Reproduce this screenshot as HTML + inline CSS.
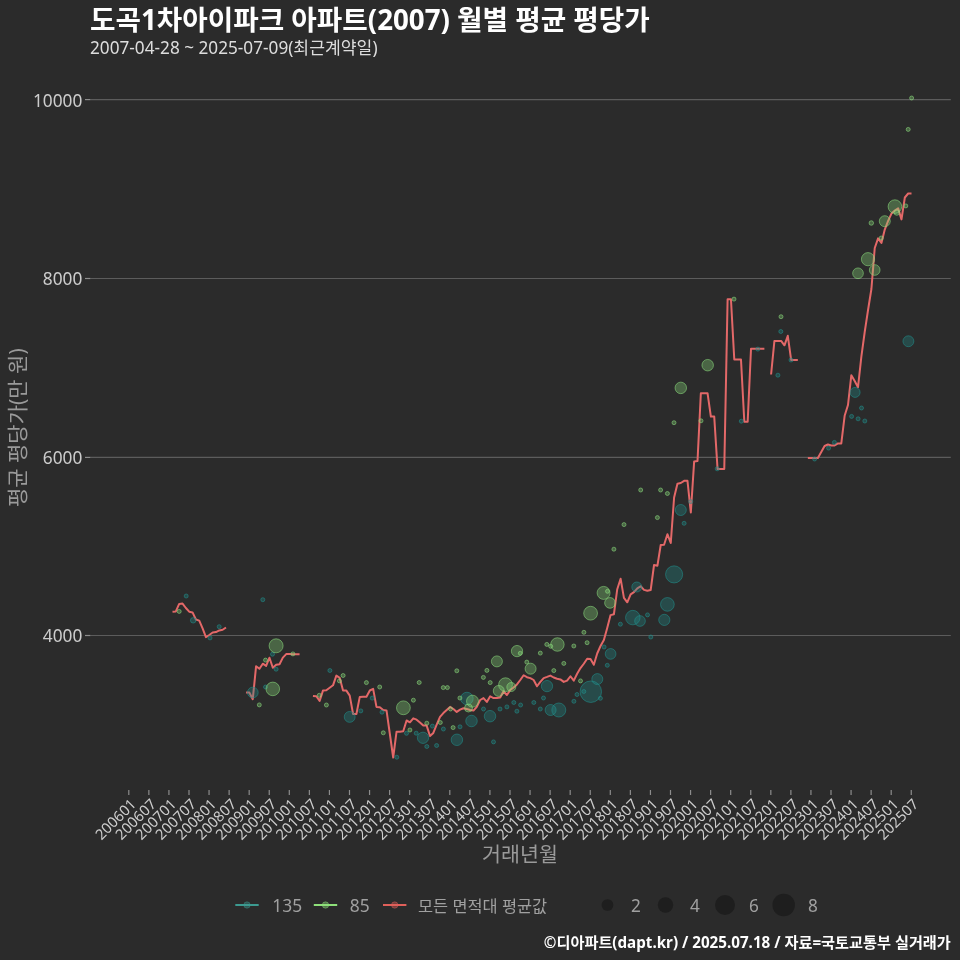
<!DOCTYPE html><html><head><meta charset="utf-8"><style>html,body{margin:0;padding:0;background:#2b2b2b;}svg{display:block;will-change:transform}text{font-family:"Noto Sans", "Liberation Sans", "Noto Sans CJK KR", sans-serif;}</style></head><body>
<svg width="960" height="960" viewBox="0 0 960 960">
<rect width="960" height="960" fill="#2b2b2b"/>
<text x="90" y="30" font-size="27.7" font-weight="700" fill="#ffffff">도곡1차아이파크 아파트(2007) 월별 평균 평당가</text>
<text x="90" y="54.2" font-size="17.2" fill="#dddddd">2007-04-28 ~ 2025-07-09(최근계약일)</text>
<line x1="90.4" x2="950.8" y1="635.5" y2="635.5" stroke="#5c5c5c" stroke-width="1.2"/>
<line x1="85" x2="90.4" y1="635.5" y2="635.5" stroke="#8c8c8c" stroke-width="1.2"/>
<text x="82.4" y="642.40" font-size="17.3" fill="#cccccc" text-anchor="end">4000</text>
<line x1="90.4" x2="950.8" y1="457.4" y2="457.4" stroke="#5c5c5c" stroke-width="1.2"/>
<line x1="85" x2="90.4" y1="457.4" y2="457.4" stroke="#8c8c8c" stroke-width="1.2"/>
<text x="82.4" y="464.30" font-size="17.3" fill="#cccccc" text-anchor="end">6000</text>
<line x1="90.4" x2="950.8" y1="278.5" y2="278.5" stroke="#5c5c5c" stroke-width="1.2"/>
<line x1="85" x2="90.4" y1="278.5" y2="278.5" stroke="#8c8c8c" stroke-width="1.2"/>
<text x="82.4" y="285.40" font-size="17.3" fill="#cccccc" text-anchor="end">8000</text>
<line x1="90.4" x2="950.8" y1="99.6" y2="99.6" stroke="#5c5c5c" stroke-width="1.2"/>
<line x1="85" x2="90.4" y1="99.6" y2="99.6" stroke="#8c8c8c" stroke-width="1.2"/>
<text x="82.4" y="106.50" font-size="17.3" fill="#cccccc" text-anchor="end">10000</text>
<line x1="128.80" x2="128.80" y1="790" y2="795" stroke="#8c8c8c" stroke-width="1.2"/>
<text transform="translate(128.00,796) rotate(-45)" font-size="14.7" fill="#cccccc" text-anchor="end" dominant-baseline="hanging">200601</text>
<line x1="148.86" x2="148.86" y1="790" y2="795" stroke="#8c8c8c" stroke-width="1.2"/>
<text transform="translate(148.06,796) rotate(-45)" font-size="14.7" fill="#cccccc" text-anchor="end" dominant-baseline="hanging">200607</text>
<line x1="168.93" x2="168.93" y1="790" y2="795" stroke="#8c8c8c" stroke-width="1.2"/>
<text transform="translate(168.13,796) rotate(-45)" font-size="14.7" fill="#cccccc" text-anchor="end" dominant-baseline="hanging">200701</text>
<line x1="188.99" x2="188.99" y1="790" y2="795" stroke="#8c8c8c" stroke-width="1.2"/>
<text transform="translate(188.19,796) rotate(-45)" font-size="14.7" fill="#cccccc" text-anchor="end" dominant-baseline="hanging">200707</text>
<line x1="209.05" x2="209.05" y1="790" y2="795" stroke="#8c8c8c" stroke-width="1.2"/>
<text transform="translate(208.25,796) rotate(-45)" font-size="14.7" fill="#cccccc" text-anchor="end" dominant-baseline="hanging">200801</text>
<line x1="229.12" x2="229.12" y1="790" y2="795" stroke="#8c8c8c" stroke-width="1.2"/>
<text transform="translate(228.31,796) rotate(-45)" font-size="14.7" fill="#cccccc" text-anchor="end" dominant-baseline="hanging">200807</text>
<line x1="249.18" x2="249.18" y1="790" y2="795" stroke="#8c8c8c" stroke-width="1.2"/>
<text transform="translate(248.38,796) rotate(-45)" font-size="14.7" fill="#cccccc" text-anchor="end" dominant-baseline="hanging">200901</text>
<line x1="269.24" x2="269.24" y1="790" y2="795" stroke="#8c8c8c" stroke-width="1.2"/>
<text transform="translate(268.44,796) rotate(-45)" font-size="14.7" fill="#cccccc" text-anchor="end" dominant-baseline="hanging">200907</text>
<line x1="289.30" x2="289.30" y1="790" y2="795" stroke="#8c8c8c" stroke-width="1.2"/>
<text transform="translate(288.50,796) rotate(-45)" font-size="14.7" fill="#cccccc" text-anchor="end" dominant-baseline="hanging">201001</text>
<line x1="309.37" x2="309.37" y1="790" y2="795" stroke="#8c8c8c" stroke-width="1.2"/>
<text transform="translate(308.57,796) rotate(-45)" font-size="14.7" fill="#cccccc" text-anchor="end" dominant-baseline="hanging">201007</text>
<line x1="329.43" x2="329.43" y1="790" y2="795" stroke="#8c8c8c" stroke-width="1.2"/>
<text transform="translate(328.63,796) rotate(-45)" font-size="14.7" fill="#cccccc" text-anchor="end" dominant-baseline="hanging">201101</text>
<line x1="349.49" x2="349.49" y1="790" y2="795" stroke="#8c8c8c" stroke-width="1.2"/>
<text transform="translate(348.69,796) rotate(-45)" font-size="14.7" fill="#cccccc" text-anchor="end" dominant-baseline="hanging">201107</text>
<line x1="369.56" x2="369.56" y1="790" y2="795" stroke="#8c8c8c" stroke-width="1.2"/>
<text transform="translate(368.76,796) rotate(-45)" font-size="14.7" fill="#cccccc" text-anchor="end" dominant-baseline="hanging">201201</text>
<line x1="389.62" x2="389.62" y1="790" y2="795" stroke="#8c8c8c" stroke-width="1.2"/>
<text transform="translate(388.82,796) rotate(-45)" font-size="14.7" fill="#cccccc" text-anchor="end" dominant-baseline="hanging">201207</text>
<line x1="409.68" x2="409.68" y1="790" y2="795" stroke="#8c8c8c" stroke-width="1.2"/>
<text transform="translate(408.88,796) rotate(-45)" font-size="14.7" fill="#cccccc" text-anchor="end" dominant-baseline="hanging">201301</text>
<line x1="429.75" x2="429.75" y1="790" y2="795" stroke="#8c8c8c" stroke-width="1.2"/>
<text transform="translate(428.94,796) rotate(-45)" font-size="14.7" fill="#cccccc" text-anchor="end" dominant-baseline="hanging">201307</text>
<line x1="449.81" x2="449.81" y1="790" y2="795" stroke="#8c8c8c" stroke-width="1.2"/>
<text transform="translate(449.01,796) rotate(-45)" font-size="14.7" fill="#cccccc" text-anchor="end" dominant-baseline="hanging">201401</text>
<line x1="469.87" x2="469.87" y1="790" y2="795" stroke="#8c8c8c" stroke-width="1.2"/>
<text transform="translate(469.07,796) rotate(-45)" font-size="14.7" fill="#cccccc" text-anchor="end" dominant-baseline="hanging">201407</text>
<line x1="489.93" x2="489.93" y1="790" y2="795" stroke="#8c8c8c" stroke-width="1.2"/>
<text transform="translate(489.13,796) rotate(-45)" font-size="14.7" fill="#cccccc" text-anchor="end" dominant-baseline="hanging">201501</text>
<line x1="510.00" x2="510.00" y1="790" y2="795" stroke="#8c8c8c" stroke-width="1.2"/>
<text transform="translate(509.20,796) rotate(-45)" font-size="14.7" fill="#cccccc" text-anchor="end" dominant-baseline="hanging">201507</text>
<line x1="530.06" x2="530.06" y1="790" y2="795" stroke="#8c8c8c" stroke-width="1.2"/>
<text transform="translate(529.26,796) rotate(-45)" font-size="14.7" fill="#cccccc" text-anchor="end" dominant-baseline="hanging">201601</text>
<line x1="550.12" x2="550.12" y1="790" y2="795" stroke="#8c8c8c" stroke-width="1.2"/>
<text transform="translate(549.32,796) rotate(-45)" font-size="14.7" fill="#cccccc" text-anchor="end" dominant-baseline="hanging">201607</text>
<line x1="570.19" x2="570.19" y1="790" y2="795" stroke="#8c8c8c" stroke-width="1.2"/>
<text transform="translate(569.39,796) rotate(-45)" font-size="14.7" fill="#cccccc" text-anchor="end" dominant-baseline="hanging">201701</text>
<line x1="590.25" x2="590.25" y1="790" y2="795" stroke="#8c8c8c" stroke-width="1.2"/>
<text transform="translate(589.45,796) rotate(-45)" font-size="14.7" fill="#cccccc" text-anchor="end" dominant-baseline="hanging">201707</text>
<line x1="610.31" x2="610.31" y1="790" y2="795" stroke="#8c8c8c" stroke-width="1.2"/>
<text transform="translate(609.51,796) rotate(-45)" font-size="14.7" fill="#cccccc" text-anchor="end" dominant-baseline="hanging">201801</text>
<line x1="630.38" x2="630.38" y1="790" y2="795" stroke="#8c8c8c" stroke-width="1.2"/>
<text transform="translate(629.58,796) rotate(-45)" font-size="14.7" fill="#cccccc" text-anchor="end" dominant-baseline="hanging">201807</text>
<line x1="650.44" x2="650.44" y1="790" y2="795" stroke="#8c8c8c" stroke-width="1.2"/>
<text transform="translate(649.64,796) rotate(-45)" font-size="14.7" fill="#cccccc" text-anchor="end" dominant-baseline="hanging">201901</text>
<line x1="670.50" x2="670.50" y1="790" y2="795" stroke="#8c8c8c" stroke-width="1.2"/>
<text transform="translate(669.70,796) rotate(-45)" font-size="14.7" fill="#cccccc" text-anchor="end" dominant-baseline="hanging">201907</text>
<line x1="690.56" x2="690.56" y1="790" y2="795" stroke="#8c8c8c" stroke-width="1.2"/>
<text transform="translate(689.76,796) rotate(-45)" font-size="14.7" fill="#cccccc" text-anchor="end" dominant-baseline="hanging">202001</text>
<line x1="710.63" x2="710.63" y1="790" y2="795" stroke="#8c8c8c" stroke-width="1.2"/>
<text transform="translate(709.83,796) rotate(-45)" font-size="14.7" fill="#cccccc" text-anchor="end" dominant-baseline="hanging">202007</text>
<line x1="730.69" x2="730.69" y1="790" y2="795" stroke="#8c8c8c" stroke-width="1.2"/>
<text transform="translate(729.89,796) rotate(-45)" font-size="14.7" fill="#cccccc" text-anchor="end" dominant-baseline="hanging">202101</text>
<line x1="750.75" x2="750.75" y1="790" y2="795" stroke="#8c8c8c" stroke-width="1.2"/>
<text transform="translate(749.95,796) rotate(-45)" font-size="14.7" fill="#cccccc" text-anchor="end" dominant-baseline="hanging">202107</text>
<line x1="770.82" x2="770.82" y1="790" y2="795" stroke="#8c8c8c" stroke-width="1.2"/>
<text transform="translate(770.02,796) rotate(-45)" font-size="14.7" fill="#cccccc" text-anchor="end" dominant-baseline="hanging">202201</text>
<line x1="790.88" x2="790.88" y1="790" y2="795" stroke="#8c8c8c" stroke-width="1.2"/>
<text transform="translate(790.08,796) rotate(-45)" font-size="14.7" fill="#cccccc" text-anchor="end" dominant-baseline="hanging">202207</text>
<line x1="810.94" x2="810.94" y1="790" y2="795" stroke="#8c8c8c" stroke-width="1.2"/>
<text transform="translate(810.14,796) rotate(-45)" font-size="14.7" fill="#cccccc" text-anchor="end" dominant-baseline="hanging">202301</text>
<line x1="831.00" x2="831.00" y1="790" y2="795" stroke="#8c8c8c" stroke-width="1.2"/>
<text transform="translate(830.20,796) rotate(-45)" font-size="14.7" fill="#cccccc" text-anchor="end" dominant-baseline="hanging">202307</text>
<line x1="851.07" x2="851.07" y1="790" y2="795" stroke="#8c8c8c" stroke-width="1.2"/>
<text transform="translate(850.27,796) rotate(-45)" font-size="14.7" fill="#cccccc" text-anchor="end" dominant-baseline="hanging">202401</text>
<line x1="871.13" x2="871.13" y1="790" y2="795" stroke="#8c8c8c" stroke-width="1.2"/>
<text transform="translate(870.33,796) rotate(-45)" font-size="14.7" fill="#cccccc" text-anchor="end" dominant-baseline="hanging">202407</text>
<line x1="891.19" x2="891.19" y1="790" y2="795" stroke="#8c8c8c" stroke-width="1.2"/>
<text transform="translate(890.39,796) rotate(-45)" font-size="14.7" fill="#cccccc" text-anchor="end" dominant-baseline="hanging">202501</text>
<line x1="911.26" x2="911.26" y1="790" y2="795" stroke="#8c8c8c" stroke-width="1.2"/>
<text transform="translate(910.46,796) rotate(-45)" font-size="14.7" fill="#cccccc" text-anchor="end" dominant-baseline="hanging">202507</text>
<text x="520" y="861.5" font-size="20.6" fill="#9a9a9a" text-anchor="middle">거래년월</text>
<text transform="translate(24.5,427.7) rotate(-90)" font-size="21" fill="#9a9a9a" text-anchor="middle">평균 평당가(만 원)</text>
<g fill="none" stroke="#e36868" stroke-width="2" stroke-linejoin="round" stroke-linecap="butt">
<polyline points="172.50,611.70 175.84,611.40 179.19,603.90 182.53,603.60 185.88,608.00 189.22,611.70 192.56,612.40 195.91,619.50 199.25,620.60 202.60,628.30 205.94,637.10 209.28,635.00 212.63,632.50 215.97,632.10 219.32,630.40 222.66,629.80 226.00,627.50"/>
<polyline points="246.07,692.40 249.41,692.60 252.76,699.20 256.10,666.20 259.44,668.80 262.79,663.70 266.13,665.90 269.48,657.70 272.82,667.80 276.16,664.80 279.51,664.20 282.85,657.60 286.20,654.10 289.54,653.90 292.88,654.20 296.23,654.20 299.57,654.20"/>
<polyline points="312.95,695.90 316.29,696.25 319.64,700.90 322.98,690.60 326.32,690.30 329.67,687.80 333.01,685.30 336.36,675.60 339.70,677.80 343.04,690.60 346.39,690.60 349.73,695.60 353.08,714.00 356.42,714.00 359.76,696.90 363.11,696.70 366.45,696.70 369.80,690.50 373.14,688.90 376.48,706.90 379.83,707.30 383.17,710.10 386.52,710.40 389.86,734.00 393.20,757.50 396.55,731.70 399.89,731.70 403.24,731.20 406.58,720.50 409.92,722.30 413.27,718.30 416.61,719.70 419.96,722.50 423.30,725.60 426.64,725.60 429.99,736.00 433.33,732.90 436.68,724.60 440.02,716.80 443.36,713.10 446.71,710.00 450.05,706.90 453.40,709.00 456.74,711.90 460.08,709.60 463.43,708.30 466.77,709.00 470.12,710.00 473.46,710.60 476.80,706.90 480.15,700.00 483.49,698.10 486.84,701.90 490.18,696.25 493.52,698.10 496.87,698.10 500.21,697.50 503.56,691.25 506.90,695.00 510.24,690.00 513.59,687.50 516.93,684.40 520.28,680.00 523.62,675.25 526.96,677.20 530.31,678.10 533.65,680.00 537.00,686.25 540.34,681.90 543.68,678.10 547.03,676.90 550.37,675.60 553.72,677.50 557.06,678.75 560.40,679.40 563.75,681.90 567.09,680.60 570.44,676.25 573.78,680.60 577.12,673.75 580.47,668.10 583.81,663.75 587.16,658.80 590.50,659.00 593.84,664.80 597.19,653.50 600.53,646.00 603.88,640.00 607.22,628.00 610.56,615.10 613.91,614.25 617.25,589.20 620.60,578.70 623.94,597.90 627.28,602.30 630.63,594.30 633.97,592.10 637.32,588.40 640.66,586.25 644.00,589.90 647.35,590.80 650.69,590.00 654.04,565.00 657.38,565.80 660.72,545.00 664.07,544.70 667.41,534.20 670.76,543.00 674.10,497.50 677.44,483.70 680.79,483.00 684.13,480.80 687.48,480.80 690.82,512.50 694.16,461.40 697.51,461.00 700.85,393.20 704.20,393.20 707.54,393.20 710.88,416.60 714.23,416.60 717.57,469.10 720.92,469.10 724.26,469.10 727.60,299.30 730.95,299.30 734.29,359.50 737.64,359.50 740.98,359.50 744.32,421.70 747.67,421.70 751.01,348.70 754.36,348.70 757.70,348.70 761.04,348.70 764.39,348.70"/>
<polyline points="771.08,374.50 774.42,340.90 777.76,340.90 781.11,340.90 784.45,345.30 787.80,335.80 791.14,359.90 794.48,359.90 797.83,359.90"/>
<polyline points="807.86,458.00 811.20,458.00 814.55,458.00 817.89,458.00 821.24,452.00 824.58,446.00 827.92,444.50 831.27,445.50 834.61,445.50 837.96,443.40 841.30,443.40 844.64,415.80 847.99,405.00 851.33,375.20 854.68,381.00 858.02,387.20 861.36,356.70 864.71,332.00 868.05,310.00 871.40,289.00 874.74,248.00 878.08,238.40 881.43,242.90 884.77,229.60 888.12,220.80 891.46,213.60 894.80,210.60 898.15,208.40 901.49,219.40 904.84,197.50 908.18,193.50 911.52,193.50"/>
</g>
<g fill="#21908c" fill-opacity="0.33" stroke="#21908c" stroke-opacity="0.55" stroke-width="1">
<circle cx="186.2" cy="596.0" r="2.00"/>
<circle cx="193.2" cy="620.3" r="2.75"/>
<circle cx="210.0" cy="637.9" r="2.00"/>
<circle cx="219.2" cy="626.7" r="2.00"/>
<circle cx="252.8" cy="692.5" r="5.35"/>
<circle cx="262.8" cy="599.7" r="2.00"/>
<circle cx="265.5" cy="687.0" r="2.00"/>
<circle cx="272.5" cy="654.2" r="2.00"/>
<circle cx="276.1" cy="669.2" r="2.00"/>
<circle cx="329.9" cy="670.5" r="2.00"/>
<circle cx="349.7" cy="716.9" r="5.45"/>
<circle cx="360.8" cy="710.9" r="2.00"/>
<circle cx="372.2" cy="698.1" r="2.00"/>
<circle cx="382.0" cy="712.2" r="2.00"/>
<circle cx="396.8" cy="757.2" r="2.00"/>
<circle cx="406.5" cy="733.3" r="2.00"/>
<circle cx="416.2" cy="733.2" r="2.00"/>
<circle cx="423.0" cy="737.8" r="5.65"/>
<circle cx="426.8" cy="746.5" r="2.00"/>
<circle cx="432.4" cy="726.1" r="2.00"/>
<circle cx="436.6" cy="745.5" r="2.00"/>
<circle cx="443.4" cy="729.0" r="2.00"/>
<circle cx="456.9" cy="739.8" r="5.75"/>
<circle cx="460.0" cy="726.8" r="2.00"/>
<circle cx="466.9" cy="698.5" r="6.25"/>
<circle cx="471.5" cy="721.0" r="5.75"/>
<circle cx="483.5" cy="709.0" r="2.00"/>
<circle cx="490.0" cy="716.2" r="5.75"/>
<circle cx="493.5" cy="741.9" r="2.00"/>
<circle cx="500.0" cy="709.0" r="2.00"/>
<circle cx="506.9" cy="706.9" r="2.00"/>
<circle cx="513.8" cy="702.5" r="2.00"/>
<circle cx="516.9" cy="711.2" r="2.00"/>
<circle cx="520.6" cy="705.0" r="2.00"/>
<circle cx="533.8" cy="702.5" r="2.00"/>
<circle cx="540.3" cy="709.0" r="2.00"/>
<circle cx="543.5" cy="698.0" r="2.00"/>
<circle cx="547.0" cy="686.1" r="5.65"/>
<circle cx="550.6" cy="710.0" r="5.50"/>
<circle cx="558.8" cy="710.0" r="7.00"/>
<circle cx="573.9" cy="701.3" r="2.00"/>
<circle cx="577.0" cy="694.5" r="2.00"/>
<circle cx="583.8" cy="691.5" r="2.00"/>
<circle cx="590.8" cy="691.7" r="10.75"/>
<circle cx="597.3" cy="679.1" r="5.50"/>
<circle cx="600.4" cy="698.3" r="2.00"/>
<circle cx="604.1" cy="647.0" r="2.00"/>
<circle cx="607.3" cy="665.3" r="2.00"/>
<circle cx="610.6" cy="653.9" r="5.35"/>
<circle cx="620.4" cy="624.2" r="2.00"/>
<circle cx="632.8" cy="617.6" r="7.25"/>
<circle cx="636.8" cy="587.0" r="5.00"/>
<circle cx="640.0" cy="621.0" r="5.35"/>
<circle cx="647.5" cy="614.9" r="2.00"/>
<circle cx="650.8" cy="637.0" r="2.00"/>
<circle cx="664.3" cy="619.9" r="5.60"/>
<circle cx="667.4" cy="604.4" r="6.85"/>
<circle cx="674.1" cy="574.4" r="8.55"/>
<circle cx="680.8" cy="510.0" r="5.50"/>
<circle cx="684.1" cy="523.3" r="2.00"/>
<circle cx="690.7" cy="501.6" r="2.00"/>
<circle cx="717.2" cy="468.8" r="2.00"/>
<circle cx="741.3" cy="421.2" r="2.00"/>
<circle cx="757.8" cy="349.1" r="2.00"/>
<circle cx="777.9" cy="375.2" r="2.00"/>
<circle cx="780.8" cy="331.5" r="2.00"/>
<circle cx="791.0" cy="360.0" r="2.00"/>
<circle cx="814.6" cy="459.0" r="2.00"/>
<circle cx="828.6" cy="448.1" r="2.00"/>
<circle cx="834.4" cy="442.4" r="2.00"/>
<circle cx="851.6" cy="416.4" r="2.00"/>
<circle cx="855.1" cy="392.4" r="5.00"/>
<circle cx="858.1" cy="418.8" r="2.00"/>
<circle cx="861.5" cy="408.0" r="2.00"/>
<circle cx="864.8" cy="421.0" r="2.00"/>
<circle cx="908.4" cy="341.25" r="5.45"/>
</g>
<g fill="#8cde7d" fill-opacity="0.33" stroke="#8cde7d" stroke-opacity="0.55" stroke-width="1">
<circle cx="179.2" cy="611.4" r="2.00"/>
<circle cx="259.3" cy="704.9" r="2.00"/>
<circle cx="265.5" cy="660.1" r="2.00"/>
<circle cx="272.8" cy="688.9" r="6.80"/>
<circle cx="276.1" cy="645.8" r="7.00"/>
<circle cx="292.9" cy="653.9" r="2.00"/>
<circle cx="319.3" cy="695.3" r="2.00"/>
<circle cx="326.4" cy="705.0" r="2.00"/>
<circle cx="339.4" cy="680.9" r="2.00"/>
<circle cx="343.1" cy="675.5" r="2.00"/>
<circle cx="366.4" cy="682.6" r="2.00"/>
<circle cx="379.7" cy="687.0" r="2.00"/>
<circle cx="383.3" cy="732.8" r="2.00"/>
<circle cx="403.4" cy="707.8" r="6.90"/>
<circle cx="409.9" cy="730.0" r="2.00"/>
<circle cx="413.4" cy="700.2" r="2.00"/>
<circle cx="419.2" cy="682.5" r="2.00"/>
<circle cx="426.8" cy="723.2" r="2.00"/>
<circle cx="440.3" cy="722.5" r="2.00"/>
<circle cx="443.3" cy="687.6" r="2.00"/>
<circle cx="447.4" cy="687.6" r="2.00"/>
<circle cx="450.5" cy="709.0" r="2.00"/>
<circle cx="453.1" cy="727.6" r="2.00"/>
<circle cx="456.8" cy="670.8" r="2.00"/>
<circle cx="459.9" cy="698.0" r="2.00"/>
<circle cx="472.5" cy="701.2" r="6.00"/>
<circle cx="468.5" cy="708.0" r="4.00"/>
<circle cx="483.4" cy="677.4" r="2.00"/>
<circle cx="486.9" cy="670.4" r="2.00"/>
<circle cx="490.2" cy="682.6" r="2.00"/>
<circle cx="496.9" cy="661.4" r="5.50"/>
<circle cx="498.8" cy="690.9" r="5.50"/>
<circle cx="505.5" cy="684.7" r="6.90"/>
<circle cx="511.3" cy="687.0" r="4.50"/>
<circle cx="517.0" cy="651.1" r="5.65"/>
<circle cx="520.3" cy="653.3" r="2.00"/>
<circle cx="526.8" cy="662.1" r="2.00"/>
<circle cx="530.6" cy="668.7" r="5.50"/>
<circle cx="540.3" cy="653.1" r="2.00"/>
<circle cx="546.8" cy="644.4" r="2.00"/>
<circle cx="550.7" cy="646.3" r="2.00"/>
<circle cx="553.8" cy="670.6" r="2.00"/>
<circle cx="557.4" cy="644.5" r="6.75"/>
<circle cx="563.8" cy="663.4" r="2.00"/>
<circle cx="573.8" cy="646.0" r="2.00"/>
<circle cx="580.5" cy="680.9" r="2.00"/>
<circle cx="583.9" cy="632.3" r="2.00"/>
<circle cx="587.1" cy="642.7" r="2.00"/>
<circle cx="590.6" cy="613.2" r="6.90"/>
<circle cx="603.6" cy="592.9" r="6.50"/>
<circle cx="607.5" cy="591.3" r="2.00"/>
<circle cx="610.0" cy="602.9" r="5.35"/>
<circle cx="613.9" cy="549.2" r="2.00"/>
<circle cx="624.0" cy="524.6" r="2.00"/>
<circle cx="640.7" cy="490.0" r="2.00"/>
<circle cx="657.4" cy="517.6" r="2.00"/>
<circle cx="660.6" cy="490.0" r="2.00"/>
<circle cx="667.4" cy="493.5" r="2.00"/>
<circle cx="674.0" cy="422.7" r="2.00"/>
<circle cx="680.8" cy="387.9" r="5.75"/>
<circle cx="701.0" cy="420.8" r="2.00"/>
<circle cx="707.7" cy="365.2" r="5.75"/>
<circle cx="734.0" cy="299.1" r="2.00"/>
<circle cx="781.0" cy="316.7" r="2.00"/>
<circle cx="858.0" cy="273.3" r="5.35"/>
<circle cx="868.0" cy="259.2" r="6.60"/>
<circle cx="871.3" cy="223.0" r="2.25"/>
<circle cx="874.7" cy="270.0" r="5.35"/>
<circle cx="881.2" cy="238.0" r="2.00"/>
<circle cx="884.8" cy="221.2" r="5.50"/>
<circle cx="894.9" cy="206.6" r="6.80"/>
<circle cx="896.8" cy="212.5" r="2.80"/>
<circle cx="905.8" cy="205.9" r="2.00"/>
<circle cx="908.2" cy="129.4" r="2.00"/>
<circle cx="911.6" cy="98.0" r="2.00"/>
</g>
<line x1="235.3" x2="258.7" y1="905" y2="905" stroke="#3c9a90" stroke-width="2"/>
<circle cx="247.0" cy="905" r="3.2" fill="#3c9a90" fill-opacity="0.4" stroke="#3c9a90" stroke-opacity="0.4"/>
<line x1="313.8" x2="337.2" y1="905" y2="905" stroke="#8ee07a" stroke-width="2"/>
<circle cx="325.5" cy="905" r="3.2" fill="#8ee07a" fill-opacity="0.4" stroke="#8ee07a" stroke-opacity="0.4"/>
<line x1="383" x2="406.4" y1="905" y2="905" stroke="#e0605a" stroke-width="2"/>
<circle cx="394.7" cy="905" r="3.2" fill="#e0605a" fill-opacity="0.4" stroke="#e0605a" stroke-opacity="0.4"/>
<text x="272.3" y="912" font-size="17.4" fill="#a0a0a0">135</text>
<text x="349.8" y="912" font-size="17.4" fill="#a0a0a0">85</text>
<text x="418" y="911.5" font-size="16.4" fill="#a0a0a0">모든 면적대 평균값</text>
<circle cx="607.5" cy="905" r="5.85" fill="#1e1e1e"/>
<text x="631" y="912" font-size="17.2" fill="#a0a0a0">2</text>
<circle cx="665.5" cy="905" r="7.7" fill="#1e1e1e"/>
<text x="690" y="912" font-size="17.2" fill="#a0a0a0">4</text>
<circle cx="725" cy="905" r="10.0" fill="#1e1e1e"/>
<text x="749" y="912" font-size="17.2" fill="#a0a0a0">6</text>
<circle cx="783.7" cy="905" r="11.25" fill="#1e1e1e"/>
<text x="808" y="912" font-size="17.2" fill="#a0a0a0">8</text>
<text x="950.8" y="948.3" font-size="15.2" font-weight="700" fill="#ffffff" text-anchor="end">©디아파트(dapt.kr) / 2025.07.18 / 자료=국토교통부 실거래가</text>
</svg></body></html>
